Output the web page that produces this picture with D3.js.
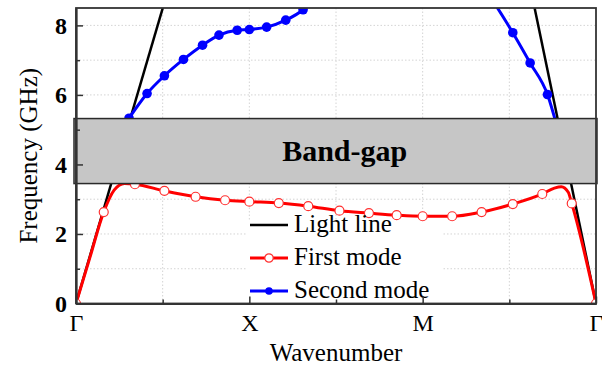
<!DOCTYPE html>
<html>
<head>
<meta charset="utf-8">
<script src="https://cdn.jsdelivr.net/npm/d3@7"></script>
<style>
  body { margin: 0; background: #fff; }
  svg { display: block; font-family: "Liberation Serif", "Times New Roman", serif; }
</style>
</head>
<body>
<svg></svg>
<script>
// x positions of the high-symmetry points
const K_TICKS = [0, 1, 2, 3];
const K_LABELS = ["Γ", "X", "M", "Γ"];
const F_TICKS = [0, 2, 4, 6, 8];

// light line, both sides of the path
const lightLeftK = [0, 0.53];
const lightLeftF = [0, 9];
const lightRightK = [2.625, 3];
const lightRightF = [9, 0];

// first mode, curve and markers
const firstModeK = [0, 0.08, 0.16, 0.22, 0.28, 0.34, 0.51, 0.69, 0.86, 1.0, 1.17, 1.34, 1.52, 1.69, 1.85, 2.0, 2.17, 2.34, 2.52, 2.69, 2.76, 2.8, 2.84, 2.86, 3.0];
const firstModeF = [0, 1.32, 2.63, 3.26, 3.45, 3.43, 3.24, 3.07, 2.97, 2.93, 2.89, 2.8, 2.67, 2.6, 2.54, 2.51, 2.51, 2.63, 2.86, 3.15, 3.32, 3.36, 3.2, 2.88, 0];
const firstMarkK = [0, 0.16, 0.34, 0.51, 0.69, 0.86, 1.0, 1.17, 1.34, 1.52, 1.69, 1.85, 2.0, 2.17, 2.34, 2.52, 2.69, 2.86, 3.0];
const firstMarkF = [0, 2.63, 3.43, 3.24, 3.07, 2.97, 2.93, 2.89, 2.8, 2.67, 2.6, 2.54, 2.51, 2.51, 2.63, 2.86, 3.15, 2.88, 0];

// second mode, two branches leaving the top of the plot
const secondLeftK = [0.306, 0.41, 0.51, 0.62, 0.73, 0.825, 0.93, 1.0, 1.1, 1.21, 1.31, 1.38];
const secondLeftF = [5.33, 6.04, 6.55, 7.02, 7.43, 7.72, 7.86, 7.88, 7.95, 8.15, 8.45, 8.8];
const secondRightK = [2.4, 2.52, 2.62, 2.72, 2.78];
const secondRightF = [8.75, 7.79, 6.92, 6.01, 5.0];
const secondMarkK = [0.306, 0.41, 0.51, 0.62, 0.73, 0.825, 0.93, 1.0, 1.1, 1.21, 1.31, 2.52, 2.62, 2.72];
const secondMarkF = [5.33, 6.04, 6.55, 7.02, 7.43, 7.72, 7.86, 7.88, 7.95, 8.15, 8.45, 7.79, 6.92, 6.01];

// band-gap limits (GHz)
const bandGap = [3.45, 5.32];

const LEGEND = ["Light line", "First mode", "Second mode"];

const WIDTH = 602;
const HEIGHT = 368;
const LEFT = 76, RIGHT = 596, TOP = 8, BOTTOM = 303.5;

const FONT = '"Liberation Serif", "Times New Roman", serif';

const xScale = d3.scaleLinear().domain([0, 3]).range([LEFT, RIGHT]);
const yScale = d3.scaleLinear().domain([0, 8.5]).range([BOTTOM, TOP]);

const zip = (ks, fs) => ks.map((k, i) => ({ k, f: fs[i] }));

const svg = d3.select("svg").attr("width", WIDTH).attr("height", HEIGHT);

svg.append("defs").append("clipPath").attr("id", "plot-clip")
  .append("rect")
  .attr("x", LEFT).attr("y", TOP)
  .attr("width", RIGHT - LEFT).attr("height", BOTTOM - TOP);

//grid
const grid = svg.append("g").attr("stroke", "#d4d4d4").attr("stroke-width", 1).attr("stroke-dasharray", "1.5,2");
grid.selectAll("line.gx")
  .data(d3.range(0.5, 3, 0.5))
  .enter().append("line")
  .attr("x1", (d) => xScale(d)).attr("x2", (d) => xScale(d))
  .attr("y1", TOP).attr("y2", BOTTOM);
grid.selectAll("line.gy")
  .data(d3.range(1, 9, 1))
  .enter().append("line")
  .attr("y1", (d) => yScale(d)).attr("y2", (d) => yScale(d))
  .attr("x1", LEFT).attr("x2", RIGHT);

//legend background sits under the curves
const legend = svg.append("g");
legend.append("rect")
  .attr("x", 247).attr("y", 220).attr("width", 196).attr("height", 82)
  .attr("fill", "#fff");

const plot = svg.append("g").attr("clip-path", "url(#plot-clip)");

const lineLinear = d3.line().x((d) => xScale(d.k)).y((d) => yScale(d.f));
const lineSmooth = d3.line().x((d) => xScale(d.k)).y((d) => yScale(d.f)).curve(d3.curveMonotoneX);

//light line
[zip(lightLeftK, lightLeftF), zip(lightRightK, lightRightF)].forEach((pts) => {
  plot.append("path")
    .attr("d", lineLinear(pts))
    .attr("fill", "none").attr("stroke", "#000").attr("stroke-width", 2.5);
});

//first mode
plot.append("path")
  .attr("d", lineSmooth(zip(firstModeK, firstModeF)))
  .attr("fill", "none").attr("stroke", "#ff0000").attr("stroke-width", 3);

//second mode
[zip(secondLeftK, secondLeftF), zip(secondRightK, secondRightF)].forEach((pts) => {
  plot.append("path")
    .attr("d", lineSmooth(pts))
    .attr("fill", "none").attr("stroke", "#0000ff").attr("stroke-width", 3);
});

plot.selectAll(".mark1")
  .data(zip(firstMarkK, firstMarkF))
  .enter().append("circle")
  .classed("mark1", true)
  .attr("cx", (d) => xScale(d.k)).attr("cy", (d) => yScale(d.f))
  .attr("r", 4.5)
  .attr("fill", "#fff").attr("stroke", "#ff3030").attr("stroke-width", 1.2);

plot.selectAll(".mark2")
  .data(zip(secondMarkK, secondMarkF))
  .enter().append("circle")
  .classed("mark2", true)
  .attr("cx", (d) => xScale(d.k)).attr("cy", (d) => yScale(d.f))
  .attr("r", 4.8)
  .attr("fill", "#0000ff");

//band-gap box
svg.append("rect")
  .attr("x", xScale(0) - 2)
  .attr("y", yScale(bandGap[1]))
  .attr("width", xScale(3) - xScale(0) + 3)
  .attr("height", yScale(bandGap[0]) - yScale(bandGap[1]))
  .attr("fill", "#c6c6c6")
  .attr("stroke", "#2a2a2a").attr("stroke-width", 1.5);

svg.append("text")
  .attr("x", xScale(1.55))
  .attr("y", yScale((bandGap[0] + bandGap[1]) / 2) + 10)
  .attr("text-anchor", "middle")
  .attr("font-family", FONT).attr("font-weight", "bold").attr("font-size", 30)
  .attr("fill", "#000")
  .text("Band-gap");

//legend entries
const legendColors = ["#000", "#ff0000", "#0000ff"];
const legendRows = svg.append("g").selectAll("g.row")
  .data(LEGEND)
  .enter().append("g")
  .attr("transform", (d, i) => `translate(250, ${225 + i * 33})`);
legendRows.append("line")
  .attr("x1", 0).attr("x2", 38).attr("y1", 0).attr("y2", 0)
  .attr("stroke", (d, i) => legendColors[i]).attr("stroke-width", (d, i) => (i === 0 ? 2.5 : 3));
legendRows.filter((d, i) => i === 1).append("circle")
  .attr("cx", 19).attr("cy", 0).attr("r", 4.2)
  .attr("fill", "#fff").attr("stroke", "#ff3030").attr("stroke-width", 1.2);
legendRows.filter((d, i) => i === 2).append("circle")
  .attr("cx", 19).attr("cy", 0).attr("r", 3.8)
  .attr("fill", "#0000ff");
legendRows.append("text")
  .attr("x", 44).attr("y", 7)
  .attr("font-family", FONT).attr("font-size", 25).attr("fill", "#000")
  .text((d) => d);

//frame
svg.append("rect")
  .attr("x", LEFT).attr("y", TOP)
  .attr("width", RIGHT - LEFT).attr("height", BOTTOM - TOP)
  .attr("fill", "none").attr("stroke", "#333").attr("stroke-width", 1.8);

//axes, ticks point into the plot
const yAxis = svg.append("g")
  .attr("transform", `translate(${LEFT}, 0)`)
  .call(d3.axisLeft(yScale).tickValues(F_TICKS).tickSizeInner(-7).tickSizeOuter(0).tickPadding(9).tickFormat(d3.format("d")));
const yMinor = svg.append("g")
  .attr("transform", `translate(${LEFT}, 0)`)
  .call(d3.axisLeft(yScale).tickValues([1, 3, 5, 7]).tickSizeInner(-4).tickSizeOuter(0).tickFormat(""));

const xAxis = svg.append("g")
  .attr("transform", `translate(0, ${BOTTOM})`)
  .call(d3.axisBottom(xScale).tickValues(K_TICKS).tickSizeInner(-7).tickSizeOuter(0).tickPadding(10).tickFormat((d, i) => K_LABELS[i]));
const xMinor = svg.append("g")
  .attr("transform", `translate(0, ${BOTTOM})`)
  .call(d3.axisBottom(xScale).tickValues([0.5, 1.5, 2.5]).tickSizeInner(-4).tickSizeOuter(0).tickFormat(""));

[yAxis, yMinor, xAxis, xMinor].forEach((ax) => {
  ax.select(".domain").attr("stroke", "#333").attr("stroke-width", 1.8);
  ax.selectAll(".tick line").attr("stroke", "#333").attr("stroke-width", 1.5);
});
yAxis.selectAll(".tick text")
  .attr("font-family", FONT).attr("font-size", 24).attr("font-weight", "bold").attr("fill", "#000");
xAxis.selectAll(".tick text")
  .attr("font-family", FONT).attr("font-size", 24).attr("fill", "#000");

//axis titles
svg.append("text")
  .attr("x", (LEFT + RIGHT) / 2).attr("y", 361)
  .attr("text-anchor", "middle")
  .attr("font-family", FONT).attr("font-size", 25).attr("fill", "#000")
  .text("Wavenumber");

svg.append("text")
  .attr("transform", `translate(37, ${(TOP + BOTTOM) / 2}) rotate(-90)`)
  .attr("text-anchor", "middle")
  .attr("font-family", FONT).attr("font-size", 25).attr("fill", "#000")
  .text("Frequency (GHz)");
</script>
</body>
</html>
